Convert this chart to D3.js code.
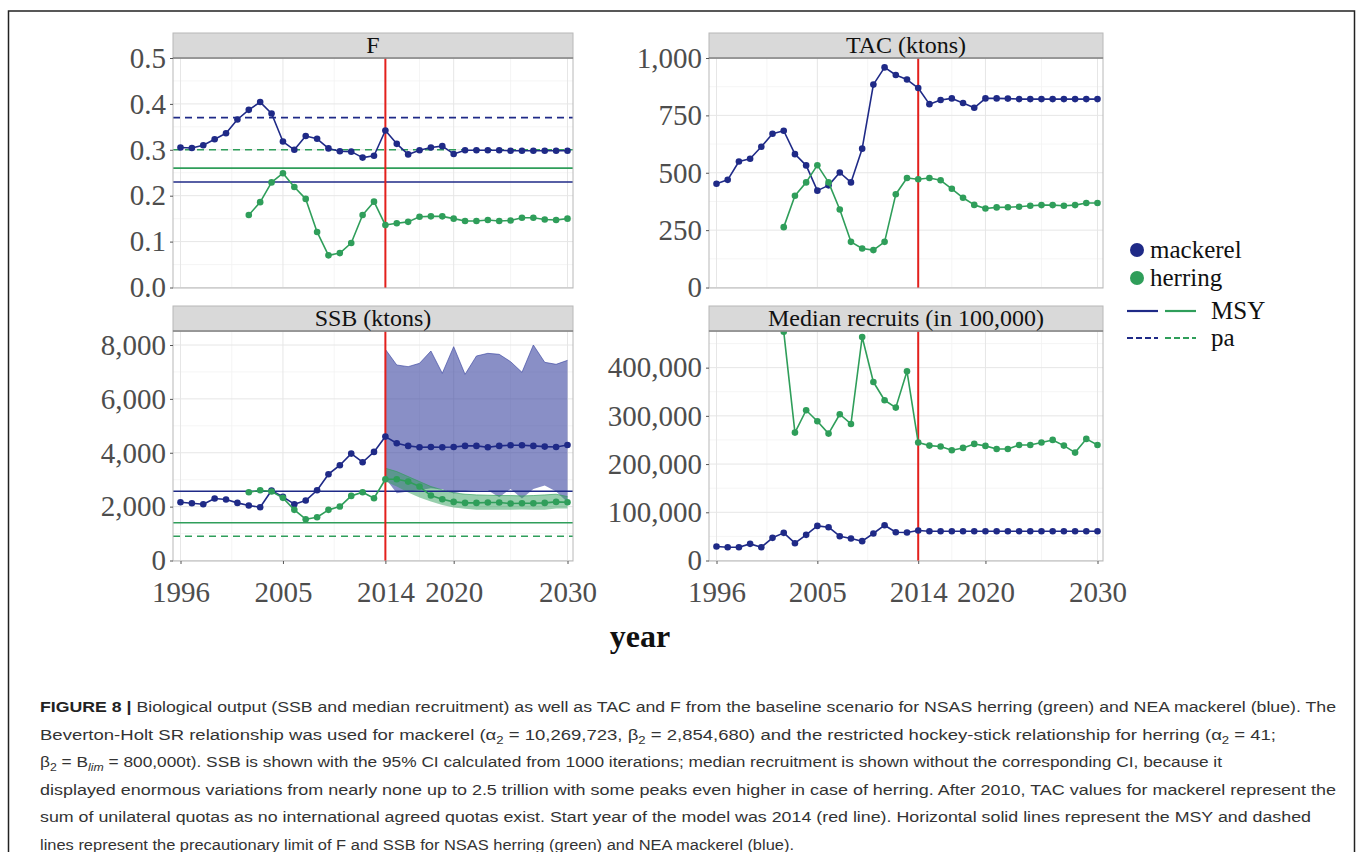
<!DOCTYPE html>
<html>
<head>
<meta charset="utf-8">
<script src="https://cdn.jsdelivr.net/npm/d3@7"></script>
<style>
  body { margin: 0; background: #fff; }
  svg { display: block; }
</style>
</head>
<body>
<svg id="chart"></svg>
<script>
// Años del modelo (histórico + proyección)
var years = [1996, 1997, 1998, 1999, 2000, 2001, 2002, 2003, 2004, 2005,
             2006, 2007, 2008, 2009, 2010, 2011, 2012, 2013, 2014, 2015,
             2016, 2017, 2018, 2019, 2020, 2021, 2022, 2023, 2024, 2025,
             2026, 2027, 2028, 2029, 2030];
var xTicks = [1996, 2005, 2014, 2020, 2030];
var startYear = 2014;

// F
var fMackerel = [0.305, 0.304, 0.310, 0.323, 0.336, 0.366, 0.387, 0.404, 0.379, 0.318,
                 0.300, 0.330, 0.324, 0.303, 0.297, 0.296, 0.283, 0.287, 0.342, 0.313,
                 0.290, 0.299, 0.305, 0.308, 0.291, 0.299, 0.299, 0.299, 0.299, 0.298,
                 0.298, 0.298, 0.298, 0.298, 0.298];
var fHerring = [null, null, null, null, null, null, 0.158, 0.186, 0.229, 0.249,
                0.219, 0.193, 0.121, 0.070, 0.075, 0.097, 0.158, 0.187, 0.136, 0.140,
                0.143, 0.154, 0.155, 0.155, 0.150, 0.145, 0.145, 0.147, 0.145, 0.146,
                0.152, 0.152, 0.148, 0.147, 0.150];
var fTicks = [0, 0.1, 0.2, 0.3, 0.4, 0.5];

// TAC (ktons)
var tacMackerel = [452, 469, 549, 561, 613, 670, 683, 581, 532, 422,
                   445, 501, 458, 605, 884, 959, 926, 906, 869, 799,
                   817, 824, 804, 783, 824, 824, 823, 821, 821, 821,
                   821, 821, 821, 821, 821];
var tacHerring = [null, null, null, null, null, null, 263, 400, 458, 533,
                  458, 340, 199, 170, 163, 199, 406, 477, 472, 477,
                  467, 430, 391, 360, 344, 349, 350, 352, 356, 359,
                  359, 356, 359, 368, 368];
var tacTicks = [0, 250, 500, 750, 1000];

// SSB (ktons) con IC 95%
var ssbMackerel = [2164, 2127, 2090, 2300, 2263, 2139, 2040, 1978, 2597, 2362,
                   2090, 2226, 2609, 3203, 3536, 3969, 3648, 4031, 4600, 4352,
                   4254, 4204, 4216, 4204, 4216, 4254, 4254, 4204, 4254, 4278,
                   4278, 4254, 4229, 4216, 4290];
var ssbMackerelHi = [null, null, null, null, null, null, null, null, null, null,
                     null, null, null, null, null, null, null, null, 7839, 7258,
                     7196, 7320, 7777, 6949, 7938, 6912, 7592, 7691, 7654, 7382,
                     6986, 8000, 7357, 7283, 7431];
var ssbMackerelLo = [null, null, null, null, null, null, null, null, null, null,
                     null, null, null, null, null, null, null, null, 3054, 2498,
                     2560, 2609, 2683, 2646, 2498, 2584, 2609, 2609, 2349, 2658,
                     2300, 2658, 2782, 2560, 2164];
var ssbHerring = [null, null, null, null, null, null, 2535, 2609, 2560, 2325,
                  1880, 1533, 1607, 1880, 2003, 2399, 2535, 2312, 3017, 3017,
                  2930, 2745, 2411, 2275, 2176, 2139, 2139, 2152, 2152, 2114,
                  2127, 2127, 2139, 2176, 2164];
var ssbHerringHi = [null, null, null, null, null, null, null, null, null, null,
                    null, null, null, null, null, null, null, null, 3425, 3301,
                    3116, 2930, 2745, 2621, 2510, 2461, 2436, 2424, 2411, 2411,
                    2399, 2411, 2436, 2461, 2374];
var ssbHerringLo = [null, null, null, null, null, null, null, null, null, null,
                    null, null, null, null, null, null, null, null, 2930, 2745,
                    2522, 2337, 2189, 2065, 1966, 1917, 1880, 1880, 1880, 1880,
                    1892, 1880, 1880, 1929, 1929];
var ssbTicks = [0, 2000, 4000, 6000, 8000];

// Reclutas medianos (en 100,000)
var recMackerel = [29000, 27600, 27600, 34500, 27600, 47000, 57300, 35900, 53200, 71800,
                   69100, 50400, 45600, 40100, 56000, 73200, 58700, 58000, 62200, 60800,
                   60800, 60800, 60800, 60800, 60800, 60800, 60800, 60800, 60800, 60800,
                   60800, 60800, 60800, 60800, 60800];
var recHerring = [null, null, null, null, null, null, 474600, 265300, 311600, 288800,
                  263200, 303300, 283200, 463600, 370300, 332300, 317100, 392400, 244600, 238300,
                  236300, 228700, 233500, 241800, 237700, 231400, 231400, 239700, 239700, 244600,
                  250100, 238300, 223800, 252200, 239700];
var recTicks = [0, 100000, 200000, 300000, 400000];

// Puntos de referencia (MSY y pa)
var fMsyMackerel = 0.23, fPaMackerel = 0.37;
var fMsyHerring = 0.26, fPaHerring = 0.30;
var ssbMsyMackerel = 2570;
var ssbMsyHerring = 1400, ssbPaHerring = 900;

// Leyenda
var legendSpecies = ["mackerel", "herring"];
var legendRefs = ["MSY", "pa"];

var captionLines = [
  [["b", "FIGURE 8 | "], ["", "Biological output (SSB and median recruitment) as well as TAC and F from the baseline scenario for NSAS herring (green) and NEA mackerel (blue). The"]],
  [["", "Beverton-Holt SR relationship was used for mackerel (α"], ["sub", "2"], ["", " = 10,269,723, β"], ["sub", "2"], ["", " = 2,854,680) and the restricted hockey-stick relationship for herring (α"], ["sub", "2"], ["", " = 41;"]],
  [["", "β"], ["sub", "2"], ["", " = B"], ["isub", "lim"], ["", " = 800,000t). SSB is shown with the 95% CI calculated from 1000 iterations; median recruitment is shown without the corresponding CI, because it"]],
  [["", "displayed enormous variations from nearly none up to 2.5 trillion with some peaks even higher in case of herring. After 2010, TAC values for mackerel represent the"]],
  [["", "sum of unilateral quotas as no international agreed quotas exist. Start year of the model was 2014 (red line). Horizontal solid lines represent the MSY and dashed"]],
  [["", "lines represent the precautionary limit of F and SSB for NSAS herring (green) and NEA mackerel (blue)."]]
];
var captionWidths = [1296, 1236, 1182, 1296, 1271, 754];

var blue = "#1f2a87", green = "#2f9e5a", red = "#e3201c";
var serif = "'Liberation Serif', 'Times New Roman', serif";

var svg = d3.select("#chart").attr("width", 1358).attr("height", 852);

// Marco de la figura
svg.append("rect")
  .attr("x", 8.5).attr("y", 11).attr("width", 1346).attr("height", 900)
  .attr("fill", "none").attr("stroke", "#222").attr("stroke-width", 1.5);

function drawPanel(p) {
  var x = d3.scaleLinear().domain([1996, 2030]).range([p.left + 7.5, p.left + p.width - 5.5]);
  var y = d3.scaleLinear().domain([0, p.yMax]).range([p.top + p.height - 0.5, p.top]);
  var g = svg.append("g");
  var clipId = "clip" + p.id;
  g.append("clipPath").attr("id", clipId).append("rect")
    .attr("x", p.left).attr("y", p.top).attr("width", p.width).attr("height", p.height);

  // Rejilla menor y mayor
  var minorX = [];
  for (var i = 1; i < xTicks.length; i++) minorX.push((xTicks[i - 1] + xTicks[i]) / 2);
  var minorY = [];
  for (var j = 1; j < p.yTicks.length; j++) minorY.push((p.yTicks[j - 1] + p.yTicks[j]) / 2);
  minorY.push(p.yTicks[p.yTicks.length - 1] + (p.yTicks[1] - p.yTicks[0]) / 2);

  g.selectAll(".mx").data(minorX).enter().append("line")
    .attr("x1", function(d) { return x(d); }).attr("x2", function(d) { return x(d); })
    .attr("y1", p.top).attr("y2", p.top + p.height)
    .attr("stroke", "#f3f3f3").attr("stroke-width", 0.8);
  g.selectAll(".my").data(minorY.filter(function(d) { return d < p.yMax; })).enter().append("line")
    .attr("x1", p.left).attr("x2", p.left + p.width)
    .attr("y1", function(d) { return y(d); }).attr("y2", function(d) { return y(d); })
    .attr("stroke", "#f3f3f3").attr("stroke-width", 0.8);
  g.selectAll(".gx").data(xTicks).enter().append("line")
    .attr("x1", function(d) { return x(d); }).attr("x2", function(d) { return x(d); })
    .attr("y1", p.top).attr("y2", p.top + p.height)
    .attr("stroke", "#e6e6e6").attr("stroke-width", 1);
  g.selectAll(".gy").data(p.yTicks).enter().append("line")
    .attr("x1", p.left).attr("x2", p.left + p.width)
    .attr("y1", function(d) { return y(d); }).attr("y2", function(d) { return y(d); })
    .attr("stroke", "#e6e6e6").attr("stroke-width", 1);

  var plot = g.append("g").attr("clip-path", "url(#" + clipId + ")");

  // Bandas de confianza
  (p.ribbons || []).forEach(function(r) {
    var rows = years.map(function(yr, k) { return { year: yr, lo: r.lo[k], hi: r.hi[k] }; })
      .filter(function(d) { return d.lo != null; });
    plot.append("path").datum(rows)
      .attr("fill", r.color).attr("fill-opacity", r.opacity)
      .attr("d", d3.area().x(function(d) { return x(d.year); })
        .y0(function(d) { return y(d.lo); }).y1(function(d) { return y(d.hi); }));
    plot.append("path").datum(rows)
      .attr("fill", "none").attr("stroke", r.color).attr("stroke-width", 0.8).attr("stroke-opacity", 0.8)
      .attr("d", d3.line().x(function(d) { return x(d.year); }).y(function(d) { return y(d.hi); }));
  });

  // Líneas de referencia horizontales
  (p.hlines || []).forEach(function(h) {
    plot.append("line")
      .attr("x1", p.left).attr("x2", p.left + p.width)
      .attr("y1", y(h.value)).attr("y2", y(h.value))
      .attr("stroke", h.color).attr("stroke-width", 1.6)
      .attr("stroke-dasharray", h.dash ? "7,5" : null);
  });

  // Año de inicio del modelo
  plot.append("line")
    .attr("x1", x(startYear)).attr("x2", x(startYear))
    .attr("y1", p.top).attr("y2", p.top + p.height)
    .attr("stroke", red).attr("stroke-width", 2);

  // Series
  p.series.forEach(function(s) {
    var rows = years.map(function(yr, k) { return { year: yr, value: s.values[k] }; })
      .filter(function(d) { return d.value != null; });
    plot.append("path").datum(rows)
      .attr("fill", "none").attr("stroke", s.color).attr("stroke-width", 1.6)
      .attr("stroke-linejoin", "round")
      .attr("d", d3.line().x(function(d) { return x(d.year); }).y(function(d) { return y(d.value); }));
    plot.selectAll(null).data(rows).enter().append("circle")
      .attr("cx", function(d) { return x(d.year); })
      .attr("cy", function(d) { return y(d.value); })
      .attr("r", 3.3).attr("fill", s.color);
  });

  // Borde del panel
  g.append("rect")
    .attr("x", p.left).attr("y", p.top).attr("width", p.width).attr("height", p.height)
    .attr("fill", "none").attr("stroke", "#b8b8b8").attr("stroke-width", 1);

  // Tira de título
  g.append("rect")
    .attr("x", p.left).attr("y", p.top - 25).attr("width", p.width).attr("height", 25)
    .attr("fill", "#d9d9d9").attr("stroke", "#b8b8b8").attr("stroke-width", 1);
  g.append("line")
    .attr("x1", p.left).attr("x2", p.left + p.width).attr("y1", p.top).attr("y2", p.top)
    .attr("stroke", "#666").attr("stroke-width", 1);
  g.append("text")
    .attr("x", p.left + p.width / 2).attr("y", p.top - 5)
    .attr("text-anchor", "middle")
    .style("font-family", serif).style("font-size", "24px").attr("fill", "#111")
    .text(p.title);

  // Eje Y
  var yAxis = g.append("g")
    .attr("transform", "translate(" + p.left + ",0)")
    .call(d3.axisLeft(y).tickValues(p.yTicks).tickFormat(p.yFormat).tickSize(3).tickPadding(4));
  yAxis.select(".domain").remove();
  yAxis.selectAll("line").attr("stroke", "#555");
  yAxis.selectAll("text")
    .style("font-family", serif).style("font-size", "29px").attr("fill", "#4d4d4d");

  // Eje X (solo en la fila inferior)
  if (p.showX) {
    var xAxis = g.append("g")
      .attr("transform", "translate(0," + (p.top + p.height) + ")")
      .call(d3.axisBottom(x).tickValues(xTicks).tickFormat(d3.format("d")).tickSize(3).tickPadding(17));
    xAxis.select(".domain").remove();
    xAxis.selectAll("line").attr("stroke", "#555");
    xAxis.selectAll("text")
      .style("font-family", serif).style("font-size", "29px").attr("fill", "#4d4d4d");
  }
}

drawPanel({
  id: "F", left: 173, top: 58, width: 400, height: 230, title: "F",
  yMax: 0.5, yTicks: fTicks, yFormat: d3.format(".1f"), showX: false,
  hlines: [
    { value: fPaMackerel, color: blue, dash: true },
    { value: fPaHerring, color: green, dash: true },
    { value: fMsyHerring, color: green, dash: false },
    { value: fMsyMackerel, color: blue, dash: false }
  ],
  series: [{ values: fMackerel, color: blue }, { values: fHerring, color: green }]
});

drawPanel({
  id: "TAC", left: 709, top: 58, width: 394, height: 230, title: "TAC (ktons)",
  yMax: 1000, yTicks: tacTicks, yFormat: d3.format(","), showX: false,
  series: [{ values: tacMackerel, color: blue }, { values: tacHerring, color: green }]
});

drawPanel({
  id: "SSB", left: 173, top: 331, width: 400, height: 230, title: "SSB (ktons)",
  yMax: 8520, yTicks: ssbTicks, yFormat: d3.format(","), showX: true,
  ribbons: [
    { lo: ssbMackerelLo, hi: ssbMackerelHi, color: "#3a45a0", opacity: 0.6 },
    { lo: ssbHerringLo, hi: ssbHerringHi, color: green, opacity: 0.5 }
  ],
  hlines: [
    { value: ssbMsyMackerel, color: blue, dash: false },
    { value: ssbMsyHerring, color: green, dash: false },
    { value: ssbPaHerring, color: green, dash: true }
  ],
  series: [{ values: ssbMackerel, color: blue }, { values: ssbHerring, color: green }]
});

drawPanel({
  id: "REC", left: 709, top: 331, width: 394, height: 230, title: "Median recruits (in 100,000)",
  yMax: 476000, yTicks: recTicks, yFormat: d3.format(","), showX: true,
  series: [{ values: recMackerel, color: blue }, { values: recHerring, color: green }]
});

// Título del eje X
svg.append("text")
  .attr("x", 640).attr("y", 647).attr("text-anchor", "middle")
  .style("font-family", serif).style("font-size", "32px").style("font-weight", "bold")
  .attr("fill", "#111").text("year");

// Leyenda
var legend = svg.append("g");
legend.selectAll("circle").data(legendSpecies).enter().append("circle")
  .attr("cx", 1137).attr("cy", function(d, i) { return 250 + i * 28; })
  .attr("r", 7).attr("fill", function(d, i) { return i === 0 ? blue : green; });
legend.selectAll(".sp").data(legendSpecies).enter().append("text")
  .attr("x", 1150).attr("y", function(d, i) { return 258 + i * 28; })
  .style("font-family", serif).style("font-size", "25px").attr("fill", "#111")
  .text(function(d) { return d; });
legendRefs.forEach(function(label, i) {
  var yy = 311 + i * 27;
  [blue, green].forEach(function(c, k) {
    legend.append("line")
      .attr("x1", 1127 + k * 38).attr("x2", 1158 + k * 38)
      .attr("y1", yy).attr("y2", yy)
      .attr("stroke", c).attr("stroke-width", 2.2)
      .attr("stroke-dasharray", i === 1 ? "6,3" : null);
  });
  legend.append("text")
    .attr("x", 1211).attr("y", yy + 8)
    .style("font-family", serif).style("font-size", "25px").attr("fill", "#111")
    .text(label);
});

// Pie de figura
captionLines.forEach(function(parts, i) {
  var t = svg.append("text")
    .attr("x", 40).attr("y", 712 + i * 27.6)
    .style("font-family", "'Liberation Sans', Arial, sans-serif").style("font-size", "15.5px")
    .attr("fill", "#333");
  if (captionWidths[i]) t.attr("textLength", captionWidths[i]).attr("lengthAdjust", "spacingAndGlyphs");
  parts.forEach(function(part) {
    var ts = t.append("tspan").text(part[1]);
    if (part[0] === "b") ts.style("font-weight", "bold").attr("fill", "#222");
    if (part[0] === "sub" || part[0] === "isub") {
      ts.style("font-size", "11px").attr("dy", 4);
      if (part[0] === "isub") ts.style("font-style", "italic");
    }
    if (part[0] === "" && ts.node().previousSibling && (d3.select(ts.node().previousSibling).attr("dy") === "4")) {
      ts.attr("dy", -4);
    }
  });
});
</script>
</body>
</html>
